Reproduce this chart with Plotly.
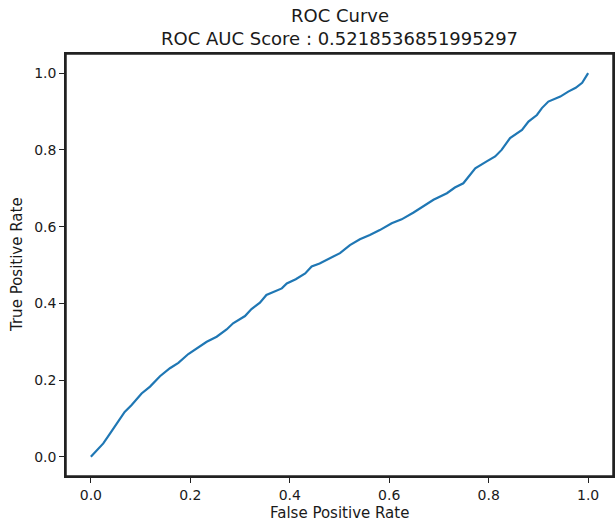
import plotly.graph_objects as go

fpr = [0.0, 0.012, 0.025, 0.036, 0.048, 0.058, 0.068, 0.082, 0.092, 0.102, 0.119, 0.129, 0.139,
       0.159, 0.176, 0.196, 0.213, 0.233, 0.253, 0.273, 0.286, 0.31, 0.323, 0.34, 0.353,
       0.368, 0.384, 0.394, 0.412, 0.431, 0.444, 0.46, 0.478, 0.501, 0.521, 0.541, 0.561,
       0.581, 0.605, 0.625, 0.649, 0.669, 0.689, 0.716, 0.732, 0.749, 0.759, 0.773, 0.796,
       0.813, 0.826, 0.843, 0.867, 0.88, 0.897, 0.907, 0.92, 0.944, 0.96, 0.975, 0.988, 1.0]
tpr = [0.0, 0.016, 0.035, 0.056, 0.078, 0.097, 0.117, 0.135, 0.151, 0.165, 0.183, 0.197, 0.21,
       0.231, 0.245, 0.268, 0.283, 0.30, 0.313, 0.332, 0.348, 0.367, 0.385, 0.402, 0.422,
       0.431, 0.439, 0.452, 0.463, 0.478, 0.496, 0.504, 0.516, 0.531, 0.552, 0.567, 0.578,
       0.591, 0.609, 0.619, 0.637, 0.654, 0.670, 0.687, 0.702, 0.713, 0.729, 0.752, 0.77,
       0.783, 0.80, 0.831, 0.852, 0.874, 0.891, 0.909, 0.926, 0.939, 0.952, 0.962, 0.975, 1.0]

tick_vals = [0.0, 0.2, 0.4, 0.6, 0.8, 1.0]
tick_text = ["0.0", "0.2", "0.4", "0.6", "0.8", "1.0"]

title_lines = ["ROC Curve", "ROC AUC Score : 0.5218536851995297"]
x_label = "False Positive Rate"
y_label = "True Positive Rate"

FONT = "DejaVu Sans"
TXT = "#1a1a1a"
FRAME = "#222222"

fig = go.Figure()
fig.add_trace(go.Scatter(x=fpr, y=tpr, mode="lines",
                         line=dict(color="#1f77b4", width=2.2), showlegend=False))

axis_common = dict(
    showgrid=False, zeroline=False, showline=True, mirror="ticks",
    linecolor=FRAME, linewidth=1.5, automargin=False,
    ticks="outside", ticklen=5, tickwidth=1.2, tickcolor=FRAME,
    tickvals=tick_vals, ticktext=tick_text,
    tickfont=dict(family=FONT, size=14, color=TXT),
    range=[-0.05, 1.05],
)

fig.update_layout(
    width=616, height=528,
    margin=dict(l=66, r=3, t=54, b=52, autoexpand=False),
    paper_bgcolor="white", plot_bgcolor="white",
    xaxis={**axis_common, "mirror": True},
    yaxis={**axis_common, "mirror": True},
    shapes=[dict(type="rect", xref="x domain", yref="y domain", x0=0, x1=1, y0=0, y1=1,
                 line=dict(color=FRAME, width=1.5), fillcolor="rgba(0,0,0,0)",
                 layer="above")],
)

# titles as annotations for exact placement
fig.add_annotation(text=title_lines[0], xref="paper", yref="paper", x=0.5, y=1,
                   yshift=39, showarrow=False, yanchor="middle",
                   font=dict(family=FONT, size=18, color=TXT))
fig.add_annotation(text=title_lines[1], xref="paper", yref="paper", x=0.5, y=1,
                   yshift=16, showarrow=False, yanchor="middle",
                   font=dict(family=FONT, size=18, color=TXT))
fig.add_annotation(text=x_label, xref="paper", yref="paper", x=0.5, y=0,
                   yshift=-37, showarrow=False, yanchor="middle",
                   font=dict(family=FONT, size=15, color=TXT))
fig.add_annotation(text=y_label, xref="paper", yref="paper", x=0, y=0.5,
                   xshift=-49, showarrow=False, xanchor="center", yanchor="middle",
                   textangle=-90, font=dict(family=FONT, size=15, color=TXT))

fig.write_html("out.html", config={"displayModeBar": False},
               post_script="document.body.style.margin='0';document.body.style.overflow='hidden';")
